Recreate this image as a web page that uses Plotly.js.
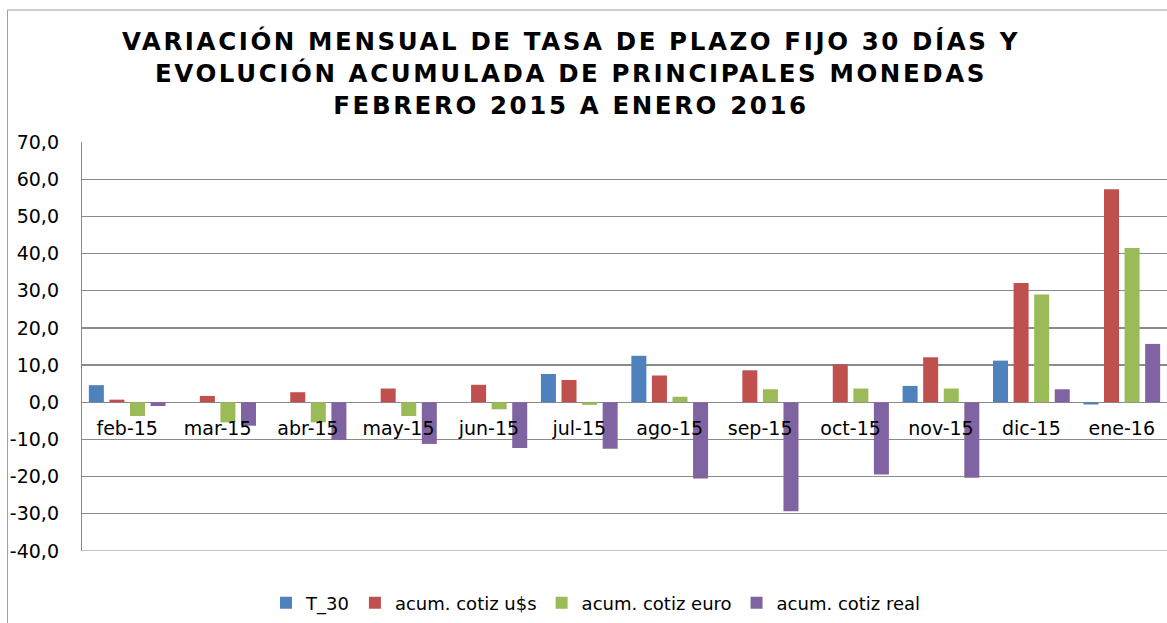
<!DOCTYPE html>
<html>
<head>
<meta charset="utf-8">
<script src="https://cdn.plot.ly/plotly-3.0.1.min.js"></script>
<style>html,body{margin:0;padding:0;background:#fff;}#chart{width:1167px;height:623px;}
.gtitle{letter-spacing:2.6px;}</style>
</head>
<body>
<div id="chart"></div>
<script>
var months = ["feb-15","mar-15","abr-15","may-15","jun-15","jul-15","ago-15","sep-15","oct-15","nov-15","dic-15","ene-16"];
var t30 =        [4.6, 0, 0, 0, 0, 7.6, 12.5, 0, 0, 4.4, 11.2, -0.6];
var cotizUsd =   [0.7, 1.7, 2.7, 3.7, 4.7, 6.0, 7.2, 8.6, 10.2, 12.1, 32.1, 57.3];
var cotizEuro =  [-3.7, -5.4, -5.4, -3.7, -1.9, -0.7, 1.5, 3.5, 3.7, 3.7, 29.0, 41.5];
var cotizReal =  [-1.0, -6.3, -10.1, -11.2, -12.3, -12.5, -20.5, -29.3, -19.4, -20.3, 3.5, 15.7];
var seriesNames = ["T_30", "acum. cotiz u$s", "acum. cotiz euro", "acum. cotiz real"];
var yTickVals = [-40, -30, -20, -10, 0, 10, 20, 30, 40, 50, 60, 70];
var yTickLabels = ["-40,0", "-30,0", "-20,0", "-10,0", "0,0", "10,0", "20,0", "30,0", "40,0", "50,0", "60,0", "70,0"];
var titleLines = ["VARIACIÓN MENSUAL DE TASA DE PLAZO FIJO 30 DÍAS Y", "EVOLUCIÓN ACUMULADA DE PRINCIPALES MONEDAS", "FEBRERO 2015 A ENERO 2016"];

var colors = ["#4F81BD", "#C0504D", "#9BBB59", "#8064A2"];
var values = [t30, cotizUsd, cotizEuro, cotizReal];
var traces = values.map(function(v, i) {
  return {type: "bar", x: months, y: v, name: seriesNames[i], marker: {color: colors[i]}};
});

var W = 1167, H = 623, ml = 82, mr = 0, mt = 142, mb = 72;
var pw = W - ml - mr, ph = H - mt - mb;
var yMin = -40, yMax = 70;
function px2x(p) { return (p - ml) / pw; }
function py2y(p) { return (H - mb - p) / ph; }
var grid = "#8a8a8a";

var layout = {
  width: W, height: H,
  margin: {l: ml, r: mr, t: mt, b: mb},
  paper_bgcolor: "#fff", plot_bgcolor: "#fff",
  barmode: "group", bargap: 0.09, bargroupgap: 0.27,
  showlegend: true,
  title: {text: titleLines.join("<br>"), font: {family: "DejaVu Sans", size: 24.5, color: "#000", weight: 700},
          x: px2x(571), xref: "paper", xanchor: "center", y: 1 - 50 / H, yref: "container", yanchor: "top"},
  xaxis: {type: "category", anchor: "free", position: (0 - yMin) / (yMax - yMin), showline: false, showgrid: false,
          ticks: "", ticklabelstandoff: 13, tickfont: {family: "DejaVu Sans", size: 19, color: "#000"}, fixedrange: true},
  yaxis: {range: [yMin, yMax], tickvals: yTickVals, ticktext: yTickLabels, showgrid: true, gridcolor: grid, gridwidth: 1.2,
          zeroline: true, zerolinecolor: grid, zerolinewidth: 1.2, showline: true, linecolor: grid, linewidth: 1.2,
          ticks: "", ticklabelstandoff: 18, tickfont: {family: "DejaVu Sans", size: 19, color: "#000"}, fixedrange: true},
  legend: {orientation: "h", x: px2x(596), xanchor: "center", y: py2y(603), yanchor: "middle",
           font: {family: "DejaVu Sans", size: 18, color: "#000"}, itemwidth: 30, tracegroupgap: 0},
  shapes: [
    {type: "line", xref: "paper", yref: "y", x0: 0, x1: 1, y0: yMin, y1: yMin, line: {color: grid, width: 1.2}, layer: "below"},
    {type: "line", xref: "paper", yref: "paper", x0: px2x(7.5), x1: px2x(7.5), y0: py2y(10), y1: py2y(630), line: {color: "#a0a0a0", width: 1}},
    {type: "line", xref: "paper", yref: "paper", x0: px2x(7.5), x1: px2x(1170), y0: py2y(10), y1: py2y(10), line: {color: "#a0a0a0", width: 1}}
  ]
};

Plotly.newPlot("chart", traces, layout, {displayModeBar: false, staticPlot: true});
</script>
</body>
</html>
